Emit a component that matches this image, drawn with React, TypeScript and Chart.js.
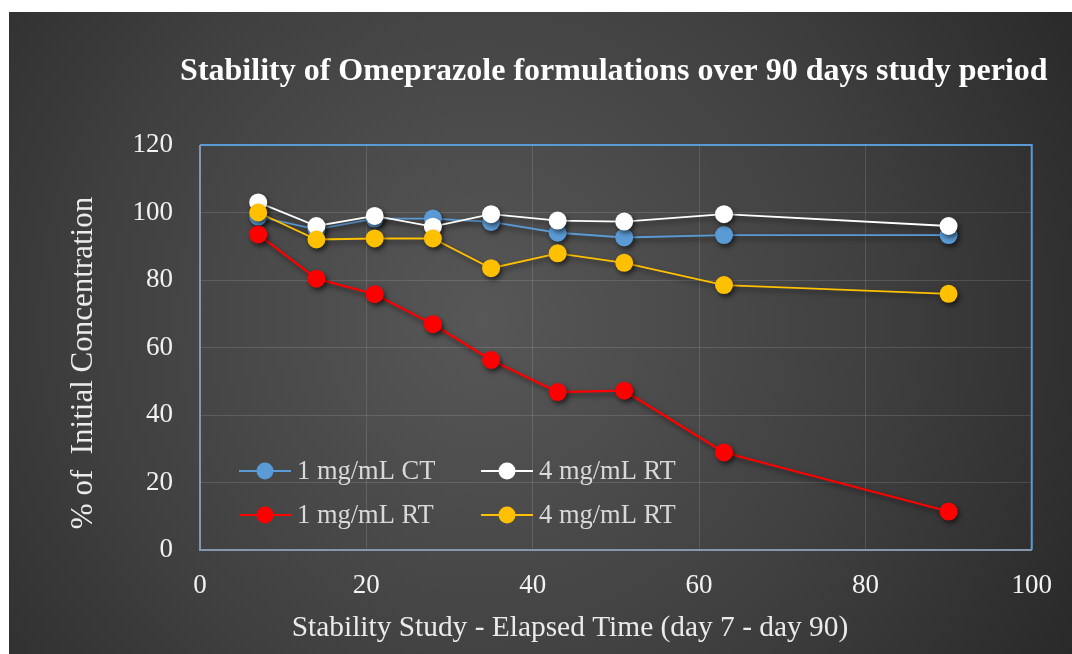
import React, { useEffect, useRef } from "react";
import { Chart, registerables } from "chart.js";

Chart.register(...registerables);

const chartTitle = "Stability of Omeprazole formulations over 90 days study period";
const xAxisTitle = "Stability Study - Elapsed Time (day 7 - day 90)";
const yAxisTitle = "% of  Initial Concentration";

const days = [7, 14, 21, 28, 35, 43, 51, 63, 90];
const ct1mg = [98.8, 95.0, 98.2, 98.2, 97.2, 94.0, 92.6, 93.3, 93.3];
const rt4mgWhite = [103.0, 96.0, 99.0, 95.8, 99.5, 97.6, 97.3, 99.5, 96.0];
const rt1mg = [93.5, 80.4, 75.8, 66.9, 56.3, 46.8, 47.2, 28.9, 11.4];
const rt4mgYellow = [100.0, 92.0, 92.3, 92.3, 83.5, 87.9, 85.1, 78.5, 75.9];

const seriesLabels = ["1 mg/mL CT", "4 mg/mL RT", "1 mg/mL RT", "4 mg/mL RT"];
const seriesColors = ["#5b9bd5", "#ffffff", "#ff0000", "#ffc000"];

const SERIF = "'Liberation Serif', 'Times New Roman', serif";

const toPoints = (ys: number[]) => days.map((d, i) => ({ x: d, y: ys[i] }));

export default function App() {
  const ref = useRef<HTMLCanvasElement | null>(null);

  useEffect(() => {
    document.body.style.margin = "0";
    const canvas = ref.current;
    if (!canvas) return;

    const bgPlugin = {
      id: "bg",
      beforeDraw(chart: any) {
        const { ctx, width, height } = chart;
        ctx.save();
        ctx.fillStyle = "#ffffff";
        ctx.fillRect(0, 0, width, height);
        const g = ctx.createRadialGradient(480, 320, 0, 480, 320, 720);
        g.addColorStop(0, "#575757");
        g.addColorStop(0.55, "#3f3f3f");
        g.addColorStop(1, "#262626");
        ctx.fillStyle = g;
        ctx.fillRect(9, 12, width - 9, height - 12);
        ctx.restore();
      },
      beforeDatasetsDraw(chart: any) {
        const { ctx, chartArea: a } = chart;
        ctx.save();
        ctx.lineWidth = 2;
        ctx.strokeStyle = "#5b9bd5";
        ctx.beginPath();
        ctx.moveTo(a.left, a.top);
        ctx.lineTo(a.right, a.top);
        ctx.lineTo(a.right, a.bottom);
        ctx.stroke();
        ctx.strokeStyle = "#8496b0";
        ctx.beginPath();
        ctx.moveTo(a.left, a.top);
        ctx.lineTo(a.left, a.bottom);
        ctx.lineTo(a.right, a.bottom);
        ctx.stroke();
        ctx.restore();
        // shadow for series
        ctx.save();
        ctx.shadowColor = "rgba(0,0,0,0.55)";
        ctx.shadowBlur = 5;
        ctx.shadowOffsetX = 2;
        ctx.shadowOffsetY = 3;
      },
      afterDatasetsDraw(chart: any) {
        chart.ctx.restore();
      },
      afterDraw(chart: any) {
        const { ctx, chartArea: a } = chart;
        ctx.save();
        // chart title
        ctx.fillStyle = "#ffffff";
        ctx.textAlign = "center";
        ctx.textBaseline = "middle";
        ctx.font = `bold 32px ${SERIF}`;
        ctx.fillText(chartTitle, (a.left + a.right) / 2 - 2, 72);
        // axis titles
        ctx.fillStyle = "#ebebeb";
        ctx.font = `29.4px ${SERIF}`;
        ctx.fillText(xAxisTitle, a.left + 370, a.bottom + 78);
        ctx.save();
        ctx.font = `31px ${SERIF}`;
        ctx.translate(84, a.top + 218);
        ctx.rotate(-Math.PI / 2);
        ctx.fillText(yAxisTitle, 0, 0);
        ctx.restore();
        // legend
        const cols = [a.left + 39, a.left + 281];
        const rows = [a.bottom - 79, a.bottom - 35];
        const order = [
          [0, 0],
          [1, 0],
          [0, 1],
          [1, 1],
        ];
        ctx.font = `26.5px ${SERIF}`;
        ctx.textAlign = "left";
        ctx.textBaseline = "middle";
        order.forEach(([c, r], i) => {
          const x = cols[c];
          const y = rows[r];
          ctx.strokeStyle = seriesColors[i];
          ctx.lineWidth = 2;
          ctx.beginPath();
          ctx.moveTo(x, y);
          ctx.lineTo(x + 52, y);
          ctx.stroke();
          ctx.fillStyle = seriesColors[i];
          ctx.beginPath();
          ctx.arc(x + 26, y, 8.5, 0, Math.PI * 2);
          ctx.fill();
          ctx.fillStyle = "#d9d9d9";
          ctx.fillText(seriesLabels[i], x + 58, y + 1);
        });
        ctx.restore();
      },
    };

    const mk = (i: number, ys: number[], order: number) => ({
      label: seriesLabels[i],
      data: toPoints(ys),
      borderColor: seriesColors[i],
      backgroundColor: seriesColors[i],
      pointBackgroundColor: seriesColors[i],
      pointBorderColor: seriesColors[i],
      borderWidth: i === 2 ? 2.2 : 1.8,
      pointRadius: 9,
      pointBorderWidth: 0,
      tension: 0,
      order,
    });

    const chart = new Chart(canvas, {
      type: "line",
      data: {
        datasets: [
          mk(0, ct1mg, 3),
          mk(1, rt4mgWhite, 2),
          mk(2, rt1mg, 1),
          mk(3, rt4mgYellow, 0),
        ],
      },
      options: {
        animation: false,
        responsive: false,
        events: [],
        layout: { padding: { left: 0, right: 39, top: 145, bottom: 0 } },
        plugins: {
          legend: { display: false },
          tooltip: { enabled: false },
          title: { display: false },
        },
        scales: {
          x: {
            type: "linear",
            min: 0,
            max: 100,
            ticks: {
              stepSize: 20,
              color: "#f2f2f2",
              font: { family: SERIF, size: 27 },
              padding: 20,
            },
            grid: { color: "rgba(255,255,255,0.13)", drawTicks: false },
            border: { display: false },
            afterFit(scale: any) {
              scale.height = 104;
            },
          },
          y: {
            min: 0,
            max: 120,
            ticks: {
              stepSize: 20,
              color: "#f2f2f2",
              font: { family: SERIF, size: 27 },
              padding: 27,
            },
            grid: { color: "rgba(255,255,255,0.13)", drawTicks: false },
            border: { display: false },
            afterFit(scale: any) {
              scale.width = 200;
            },
          },
        },
      },
      plugins: [bgPlugin],
    } as any);

    return () => chart.destroy();
  }, []);

  return (
    <div style={{ width: 1072, height: 654 }}>
      <canvas ref={ref} width={1072} height={654} style={{ display: "block" }} />
    </div>
  );
}
